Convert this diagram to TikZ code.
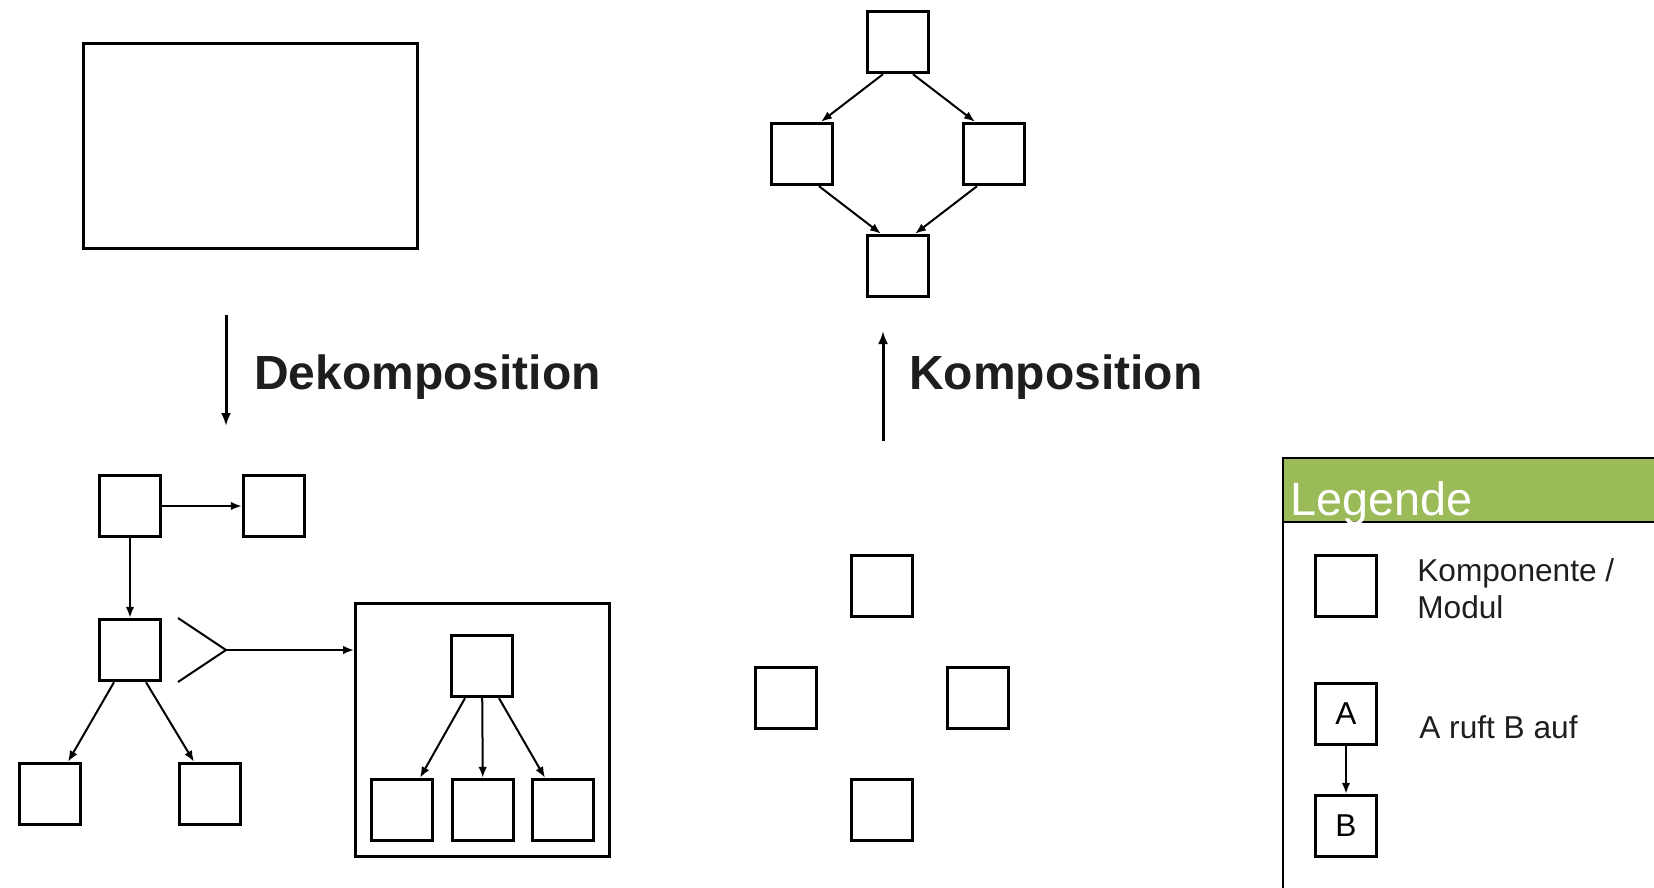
\documentclass[tikz,border=0pt]{standalone}
\usepackage{fontspec}
\setmainfont{Liberation Sans}
\usetikzlibrary{arrows.meta}
\definecolor{legendgreen}{RGB}{155,187,89}
\definecolor{inkgray}{RGB}{30,30,30}

\begin{document}
\begin{tikzpicture}[
    x=0.02cm, y=-0.02cm,
    comp/.style={draw, line width=0.058cm, inner sep=0pt, minimum size=1.23cm, font=\fontsize{18pt}{21pt}\selectfont},
    frame/.style={line width=0.058cm},
    flow/.style={-{Latex[length=0.22cm,width=0.17cm]}, line width=0.04cm},
    bigflow/.style={-{Latex[length=0.26cm,width=0.2cm]}, line width=0.06cm},
    title/.style={anchor=base west, inner sep=0pt, text=inkgray, font=\fontsize{27.3pt}{33pt}\selectfont\bfseries},
    legtext/.style={anchor=base west, inner sep=0pt, align=left, text=inkgray, font=\fontsize{18pt}{21pt}\selectfont}
]
\useasboundingbox (0,0) rectangle (1654,887);

% whole system, before decomposition
\node[comp, minimum width=6.68cm, minimum height=4.1cm] (system) at (250.5,146) {};

\coordinate (dek-start) at (226,315);
\coordinate (dek-end) at (226,426);
\draw[bigflow] (dek-start) -- (dek-end);
\node[title] (dek-label) at (254,389) {Dekomposition};

% decomposed tree
\node[comp] (a1) at (130,506) {};
\node[comp] (a2) at (274,506) {};
\node[comp] (b) at (130,650) {};
\node[comp] (c1) at (50,794) {};
\node[comp] (c2) at (210,794) {};
\draw[flow] (a1) -- (a2);
\draw[flow] (a1) -- (b);
\draw[flow] ([xshift=-0.32cm]b.south) -- ([xshift=0.36cm]c1.north);
\draw[flow] ([xshift=0.32cm]b.south) -- ([xshift=-0.32cm]c2.north);

% zoom into one module
\coordinate (split-top) at (178,618);
\coordinate (split) at (226,650);
\coordinate (split-bottom) at (178,682);
\draw[line width=0.04cm] (split-top) -- (split) -- (split-bottom);
\node[comp, minimum width=5.08cm, minimum height=5.06cm] (module) at (482.5,730) {};
\draw[flow] (split) -- (split -| module.west);

\node[comp] (m-top) at (482,666) {};
\node[comp] (m-left) at (402,810) {};
\node[comp] (m-mid) at (483,810) {};
\node[comp] (m-right) at (563,810) {};
\draw[flow] ([xshift=-0.34cm]m-top.south) -- ([xshift=0.36cm]m-left.north);
\draw[flow] (m-top) -- (m-mid);
\draw[flow] ([xshift=0.34cm]m-top.south) -- ([xshift=-0.36cm]m-right.north);

% composed graph
\node[comp] (k-top) at (898,42) {};
\node[comp] (k-left) at (802,154) {};
\node[comp] (k-right) at (994,154) {};
\node[comp] (k-bottom) at (898,266) {};
\draw[flow] ([xshift=-0.3cm]k-top.south) -- ([xshift=0.38cm]k-left.north);
\draw[flow] ([xshift=0.3cm]k-top.south) -- ([xshift=-0.38cm]k-right.north);
\draw[flow] ([xshift=0.34cm]k-left.south) -- ([xshift=-0.34cm]k-bottom.north);
\draw[flow] ([xshift=-0.34cm]k-right.south) -- ([xshift=0.34cm]k-bottom.north);

\coordinate (kom-start) at (883,441);
\coordinate (kom-end) at (883,331);
\draw[bigflow] (kom-start) -- (kom-end);
\node[title] (kom-label) at (909,389) {Komposition};

% loose parts
\node[comp] (p-top) at (882,586) {};
\node[comp] (p-left) at (786,698) {};
\node[comp] (p-right) at (978,698) {};
\node[comp] (p-bottom) at (882,810) {};

% legend
\fill[legendgreen] (1283,458) rectangle (1660,522);
\draw[frame] (1283,892) -- (1283,458) -- (1660,458);
\draw[frame] (1283,522) -- (1660,522);
\node[anchor=base west, inner sep=0pt, text=white, font=\fontsize{26.6pt}{31pt}\selectfont] (leg-title) at (1290,515) {Legende};

\node[comp] (leg-comp) at (1346,586) {};
\node[legtext] (leg-comp-text) at (1417,618) {Komponente /\\Modul};

\node[comp] (leg-a) at (1346,714) {A};
\node[comp] (leg-b) at (1346,826) {B};
\draw[flow] (leg-a) -- (leg-b);
\node[legtext] (leg-call-text) at (1419,738) {A ruft B auf};
\end{tikzpicture}
\end{document}
